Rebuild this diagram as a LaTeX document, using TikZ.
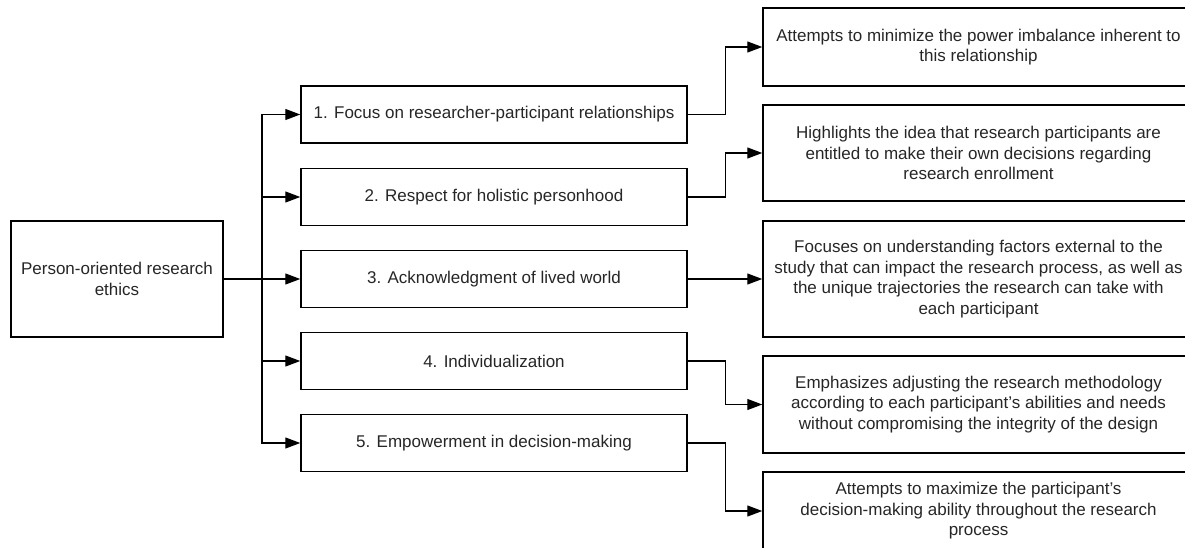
\documentclass[tikz,border=0pt]{standalone}
\usepackage{fontspec}
\setmainfont{Liberation Sans}
\usetikzlibrary{arrows.meta, positioning}

\begin{document}
\begin{tikzpicture}[
  x=1pt, y=-1pt,
  box/.style={draw, rectangle, line width=1.5pt, align=center, text=black!85,
    font=\fontsize{17}{20.5}\selectfont, inner sep=0pt},
  midbox/.style={box, minimum width=386pt, minimum height=57pt},
  descbox/.style={box, minimum width=431pt},
  arrow/.style={-{Triangle[length=15pt, width=11pt]}, line width=1.3pt}
]
  \useasboundingbox (0,0) rectangle (1185,548);

  % root
  \node[box, minimum width=212pt, minimum height=116pt] (root) at (117,279)
    {Person-oriented research\\ethics};

  % five principles
  \node[midbox] (m1) at (494,114.5) {1. Focus on researcher-participant relationships};
  \node[midbox] (m2) at (494,197) {2. Respect for holistic personhood};
  \node[midbox] (m3) at (494,279) {3. Acknowledgment of lived world};
  \node[midbox] (m4) at (494,361) {4. Individualization};
  \node[midbox] (m5) at (494,443) {5. Empowerment in decision-making};

  % descriptions
  \node[descbox, minimum height=78pt] (r1) at (978.5,47)
    {Attempts to minimize the power imbalance inherent to\\this relationship};
  \node[descbox, minimum height=96pt] (r2) at (978.5,153)
    {Highlights the idea that research participants are\\entitled to make their own decisions regarding\\research enrollment};
  \node[descbox, minimum height=116pt] (r3) at (978.5,279)
    {Focuses on understanding factors external to the\\study that can impact the research process, as well as\\the unique trajectories the research can take with\\each participant};
  \node[descbox, minimum height=97pt] (r4) at (978.5,404.5)
    {Emphasizes adjusting the research methodology\\according to each participant's abilities and needs\\without compromising the integrity of the design};
  \node[descbox, minimum height=78pt] (r5) at (978.5,511)
    {Attempts to maximize the participant's\\decision-making ability throughout the research\\process};

  % root to principles
  \coordinate (jn) at (262,279);
  \draw[arrow] (root.east) -- (m3.west);
  \foreach \m in {m1,m2,m4,m5}
    \draw[arrow] (jn) |- (\m.west);

  % principles to descriptions
  \foreach \m/\r in {m1/r1,m2/r2,m4/r4,m5/r5}
    \draw[arrow] (\m.east) -- ++(38,0) |- (\r.west);
  \draw[arrow] (m3.east) -- (r3.west);
\end{tikzpicture}
\end{document}
